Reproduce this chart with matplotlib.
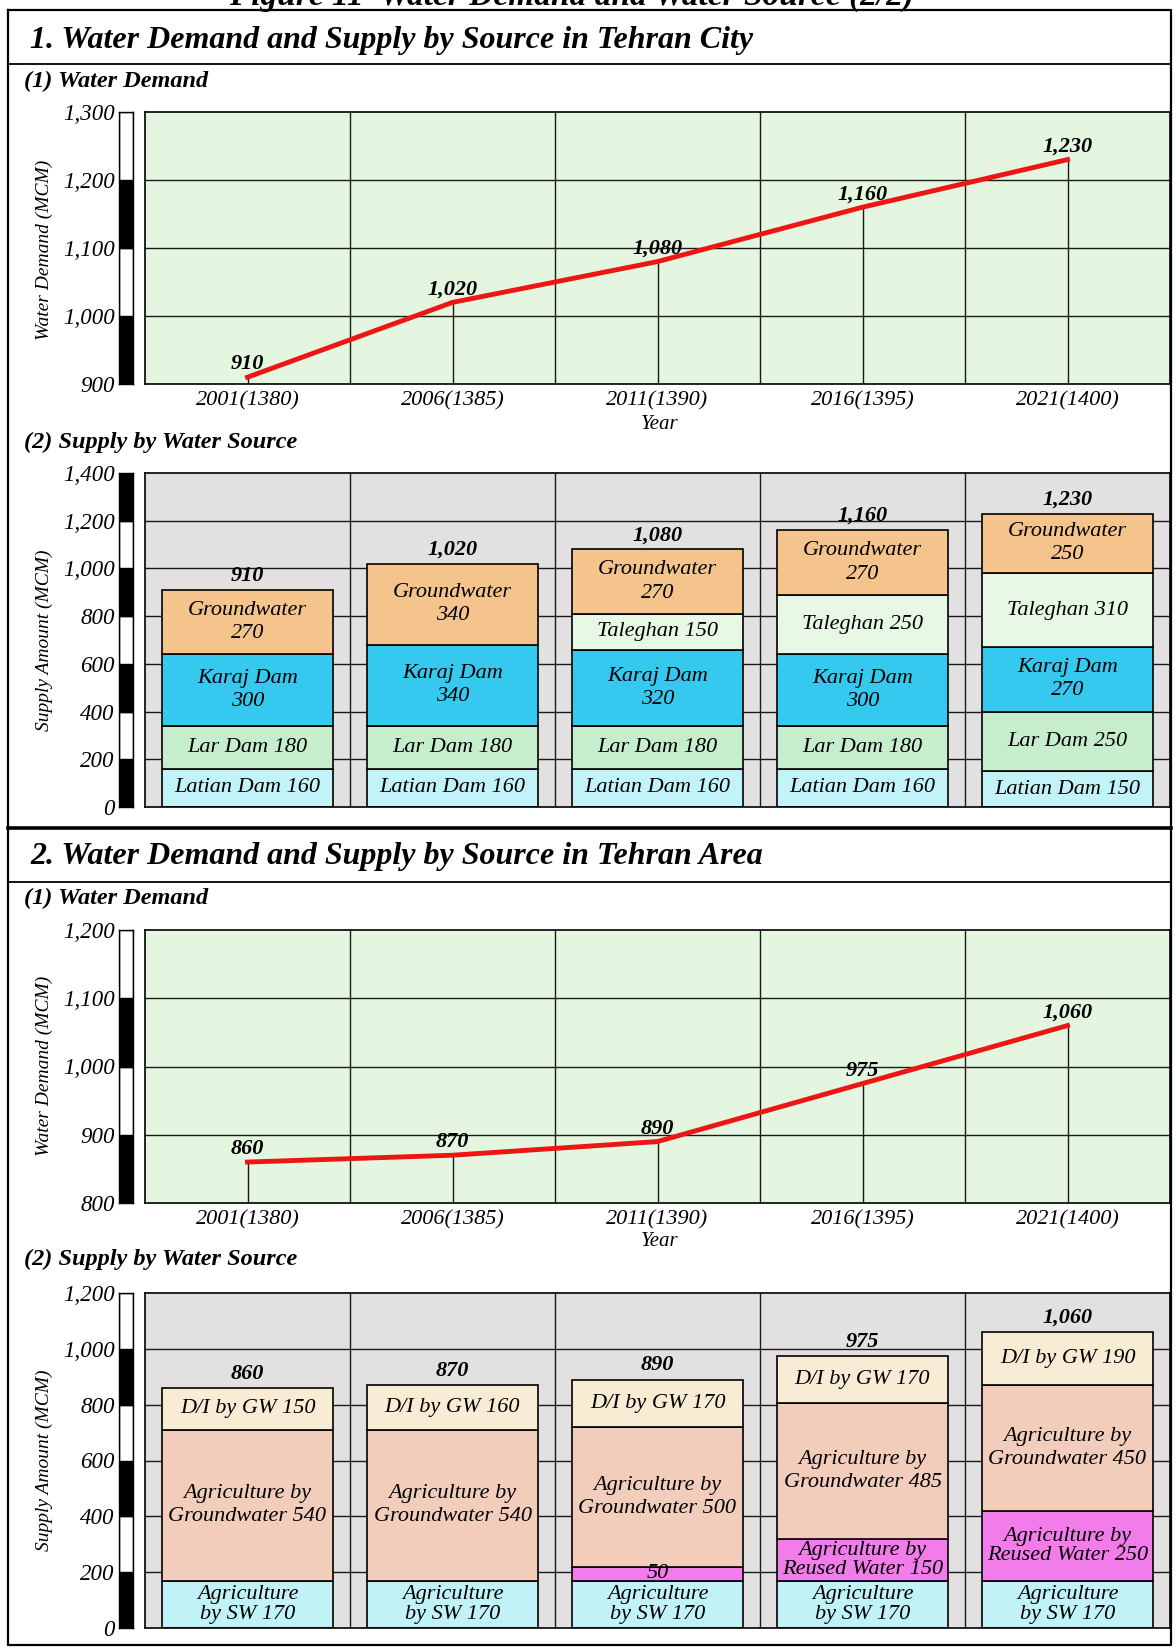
import matplotlib
matplotlib.use('Agg')
import matplotlib.pyplot as plt
import numpy as np

plt.rcParams['font.family'] = ['Liberation Serif', 'DejaVu Serif']

# data
years = ['2001(1380)', '2006(1385)', '2011(1390)', '2016(1395)', '2021(1400)']

city_demand = [910, 1020, 1080, 1160, 1230]
city_latian = [160, 160, 160, 160, 150]
city_lar = [180, 180, 180, 180, 250]
city_karaj = [300, 340, 320, 300, 270]
city_taleghan = [0, 0, 150, 250, 310]
city_gw = [270, 340, 270, 270, 250]

area_demand = [860, 870, 890, 975, 1060]
area_sw = [170, 170, 170, 170, 170]
area_reused = [0, 0, 50, 150, 250]
area_agri_gw = [540, 540, 500, 485, 450]
area_di_gw = [150, 160, 170, 170, 190]

W, H = 1176, 1648
fig = plt.figure(figsize=(W / 100, H / 100), dpi=100)


def px_rect(x0, y0, x1, y1):
    # pixel box (top-left origin) -> figure fraction rect
    return [x0 / W, 1 - y1 / H, (x1 - x0) / W, (y1 - y0) / H]


bold_it = dict(fontweight='bold', style='italic')

# background layer for frame and headings
bg = fig.add_axes([0, 0, 1, 1])
bg.set_xlim(0, W)
bg.set_ylim(H, 0)
bg.axis('off')

bg.plot([8, 1171, 1171, 8, 8], [10, 10, 1645, 1645, 10], color='black', lw=1.6)
bg.plot([8, 1171], [64, 64], color='black', lw=1.3)
bg.plot([8, 1171], [828, 828], color='black', lw=2.6)
bg.plot([8, 1171], [882, 882], color='black', lw=1.3)

bg.text(572, 5, 'Figure 11  Water Demand and Water Source (2/2)', ha='center',
        va='baseline', fontsize=24, **bold_it)
bg.text(30, 40, '1. Water Demand and Supply by Source in Tehran City', va='center',
        fontsize=23, **bold_it)
bg.text(30, 856, '2. Water Demand and Supply by Source in Tehran Area', va='center',
        fontsize=23, **bold_it)
for yy in [81, 898]:
    bg.text(24, yy, '(1) Water Demand', va='center', fontsize=17.5, **bold_it)
for yy in [442, 1259]:
    bg.text(24, yy, '(2) Supply by Water Source', va='center', fontsize=17.5, **bold_it)
for yy in [424, 1242]:
    bg.text(660, yy, 'Year', ha='center', va='center', fontsize=15, style='italic')

ylab = dict(rotation=90, ha='center', va='center', fontsize=14, style='italic')
bg.text(44, 250, 'Water Demand (MCM)', **ylab)
bg.text(44, 640, 'Supply Amount (MCM)', **ylab)
bg.text(44, 1066, 'Water Demand (MCM)', **ylab)
bg.text(44, 1460, 'Supply Amount (MCM)', **ylab)

X0, X1 = 145, 1170
x = np.arange(len(years))


def axis_bar(y0, y1, lo, hi, step):
    axb = fig.add_axes(px_rect(119, y0, 133, y1))
    edges = np.arange(lo, hi, step)
    cols = ['black' if i % 2 == 0 else 'white' for i in range(len(edges))]
    axb.bar(0.5, step, bottom=edges, width=1, color=cols, edgecolor='black', lw=1)
    axb.set_xlim(0, 1)
    axb.set_ylim(lo, hi)
    axb.set_xticks([])
    ticks = np.arange(lo, hi + step, step)
    axb.set_yticks(ticks)
    axb.set_yticklabels([f'{t:,}' for t in ticks], fontsize=16.5, style='italic')
    axb.tick_params(axis='y', length=0, pad=3)
    for s in axb.spines.values():
        s.set_linewidth(1)


def frame_grid(ax, lo, hi, step):
    for g in np.arange(lo + step, hi, step):
        ax.axhline(g, color='#1a1a1a', lw=1, zorder=1)
    for b in x[:-1] + 0.5:
        ax.axvline(b, color='#1a1a1a', lw=1, zorder=1)
    for s in ax.spines.values():
        s.set_linewidth(1.2)


def line_chart(y0, y1, lo, hi, step, values):
    axis_bar(y0, y1, lo, hi, step)
    ax = fig.add_axes(px_rect(X0, y0, X1, y1))
    ax.set_facecolor('#E4F6E0')
    ax.set_xlim(-0.5, 4.5)
    ax.set_ylim(lo, hi)
    frame_grid(ax, lo, hi, step)
    ax.vlines(x, lo, values, color='#1a1a1a', lw=1, zorder=1)
    ax.plot(x, values, color='#EE1515', lw=3.5, zorder=3)
    for xi, v in zip(x, values):
        ax.annotate(f'{v:,}', (xi, v), xytext=(0, 2), textcoords='offset points',
                    ha='center', va='bottom', fontsize=16, zorder=4, **bold_it)
    ax.set_yticks([])
    ax.set_xticks(x)
    ax.set_xticklabels(years, fontsize=16, style='italic')
    ax.tick_params(axis='x', length=0, pad=5)


def bar_chart(y0, y1, lo, hi, step, layers, colors, fmts, spacing, totals):
    axis_bar(y0, y1, lo, hi, step)
    ax = fig.add_axes(px_rect(X0, y0, X1, y1))
    ax.set_facecolor('#E3E0E2')
    ax.set_xlim(-0.5, 4.5)
    ax.set_ylim(lo, hi)
    frame_grid(ax, lo, hi, step)
    bottom = np.zeros(len(x))
    for vals, col, fmt, ls in zip(layers, colors, fmts, spacing):
        vals = np.array(vals, dtype=float)
        keep = vals > 0
        ax.bar(x[keep], vals[keep], bottom=bottom[keep], width=0.83, color=col,
               edgecolor='black', lw=1.2, zorder=2)
        for i in x[keep]:
            ax.text(i, bottom[i] + vals[i] / 2, fmt(int(vals[i])), ha='center', va='center',
                    fontsize=16, style='italic', linespacing=ls, zorder=3)
        bottom += vals
    for xi, t in zip(x, totals):
        ax.annotate(f'{t:,}', (xi, t), xytext=(0, 3), textcoords='offset points',
                    ha='center', va='bottom', fontsize=16, zorder=4, **bold_it)
    ax.set_xticks([])
    ax.set_yticks([])


line_chart(112, 384, 900, 1300, 100, city_demand)

bar_chart(473, 807, 0, 1400, 200,
          [city_latian, city_lar, city_karaj, city_taleghan, city_gw],
          ['#C2F3F8', '#C6EECD', '#36C9EF', '#E7F8E5', '#F5C48C'],
          [lambda v: f'Latian Dam {v}', lambda v: f'Lar Dam {v}',
           lambda v: f'Karaj Dam\n{v}', lambda v: f'Taleghan {v}',
           lambda v: f'Groundwater\n{v}'],
          [1.3, 1.3, 1.3, 1.3, 1.3],
          city_demand)

line_chart(930, 1203, 800, 1200, 100, area_demand)

bar_chart(1293, 1628, 0, 1200, 200,
          [area_sw, area_reused, area_agri_gw, area_di_gw],
          ['#C0F2F8', '#F27DEA', '#F2CDBC', '#F8EDD4'],
          [lambda v: f'Agriculture\nby SW {v}',
           lambda v: f'{v}' if v < 100 else f'Agriculture by\nReused Water {v}',
           lambda v: f'Agriculture by\nGroundwater {v}',
           lambda v: f'D/I by GW {v}'],
          [1.05, 1.0, 1.3, 1.3],
          area_demand)

fig.savefig('out.png', dpi=100)
